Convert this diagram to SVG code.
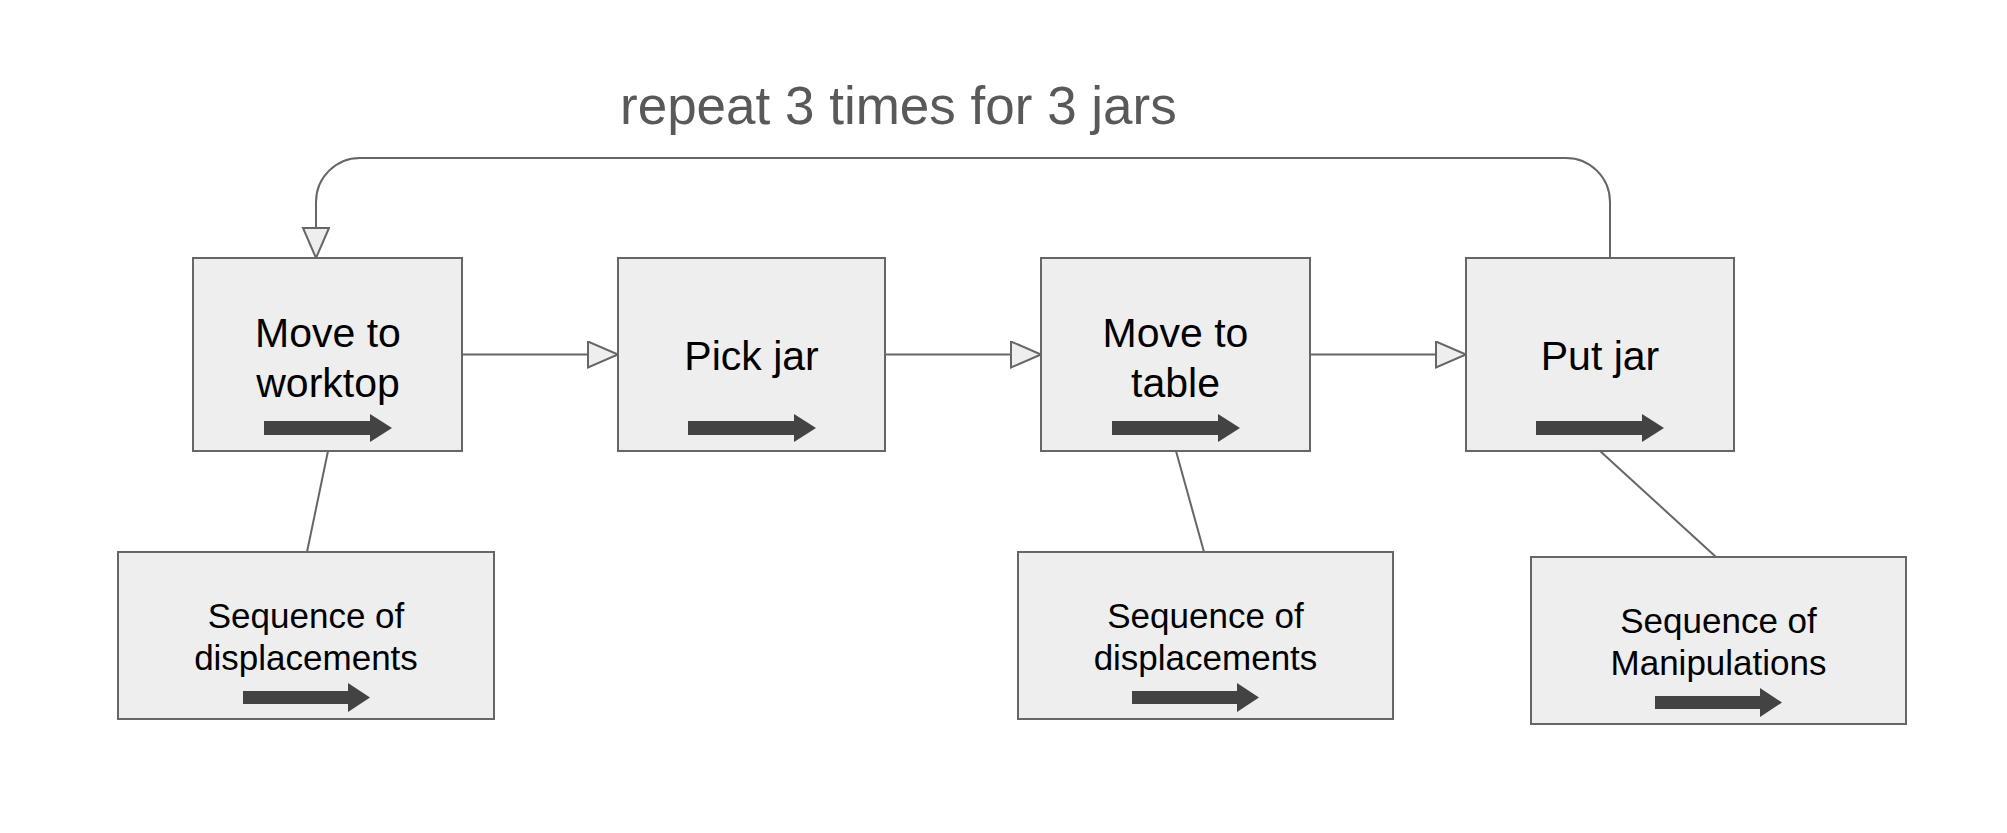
<svg xmlns="http://www.w3.org/2000/svg" width="2007" height="833" viewBox="0 0 2007 833">
<style>
.box{fill:#eeeeee;stroke:#666666;stroke-width:2}
.conn{fill:none;stroke:#666666;stroke-width:2}
.t{font-family:"Liberation Sans",Arial,sans-serif;fill:#000000;text-anchor:middle}
.big{font-size:41px}
.small{font-size:35px}
.fat{fill:#434343}
</style>
<defs>
<marker id="tri" markerUnits="userSpaceOnUse" markerWidth="34" markerHeight="30" refX="31" refY="14" orient="auto">
<path d="M1,1 L31,14 L1,27 Z" fill="#eeeeee" stroke="#666666" stroke-width="2"/>
</marker>
</defs>
<rect width="2007" height="833" fill="#ffffff"/>
<text x="620" y="124" font-family="'Liberation Sans',Arial,sans-serif" font-size="53" fill="#595959">repeat 3 times for 3 jars</text>
<g id="connectors">
<path class="conn" d="M1610 258 V202 A44 44 0 0 0 1566 158 H360 A44 44 0 0 0 316 202 V258" marker-end="url(#tri)"/>
<path class="conn" d="M462 354.5 H618" marker-end="url(#tri)"/>
<path class="conn" d="M885 354.5 H1041" marker-end="url(#tri)"/>
<path class="conn" d="M1310 354.5 H1466" marker-end="url(#tri)"/>
<path class="conn" d="M328 451 L307 552"/>
<path class="conn" d="M1176 451 L1204 552"/>
<path class="conn" d="M1600 451 L1716 557"/>
</g>
<g id="move-worktop">
<rect class="box" x="193" y="258" width="269" height="193"/>
<text class="t big" x="328" y="346.5">Move to</text>
<text class="t big" x="328" y="396.5">worktop</text>
<path class="fat" d="M264,421 H370 V414 L392,428 L370,442 V435 H264 Z"/>
</g>
<g id="pick-jar">
<rect class="box" x="618" y="258" width="267" height="193"/>
<text class="t big" x="751.5" y="370">Pick jar</text>
<path class="fat" d="M688,421 H794 V414 L816,428 L794,442 V435 H688 Z"/>
</g>
<g id="move-table">
<rect class="box" x="1041" y="258" width="269" height="193"/>
<text class="t big" x="1175.5" y="346.5">Move to</text>
<text class="t big" x="1175.5" y="396.5">table</text>
<path class="fat" d="M1112,421 H1218 V414 L1240,428 L1218,442 V435 H1112 Z"/>
</g>
<g id="put-jar">
<rect class="box" x="1466" y="258" width="268" height="193"/>
<text class="t big" x="1600" y="370">Put jar</text>
<path class="fat" d="M1536,421 H1642 V414 L1664,428 L1642,442 V435 H1536 Z"/>
</g>
<g id="seq-displacements-1">
<rect class="box" x="118" y="552" width="376" height="167"/>
<text class="t small" x="306" y="627.5">Sequence of</text>
<text class="t small" x="306" y="669.5">displacements</text>
<path class="fat" d="M243,691 H348 V683 L370,697.5 L348,712 V704 H243 Z"/>
</g>
<g id="seq-displacements-2">
<rect class="box" x="1018" y="552" width="375" height="167"/>
<text class="t small" x="1205.5" y="627.5">Sequence of</text>
<text class="t small" x="1205.5" y="669.5">displacements</text>
<path class="fat" d="M1132,691 H1237 V683 L1259,697.5 L1237,712 V704 H1132 Z"/>
</g>
<g id="seq-manipulations">
<rect class="box" x="1531" y="557" width="375" height="167"/>
<text class="t small" x="1718.5" y="633">Sequence of</text>
<text class="t small" x="1718.5" y="675">Manipulations</text>
<path class="fat" d="M1655,696 H1760 V688 L1782,702.5 L1760,717 V709 H1655 Z"/>
</g>
</svg>
